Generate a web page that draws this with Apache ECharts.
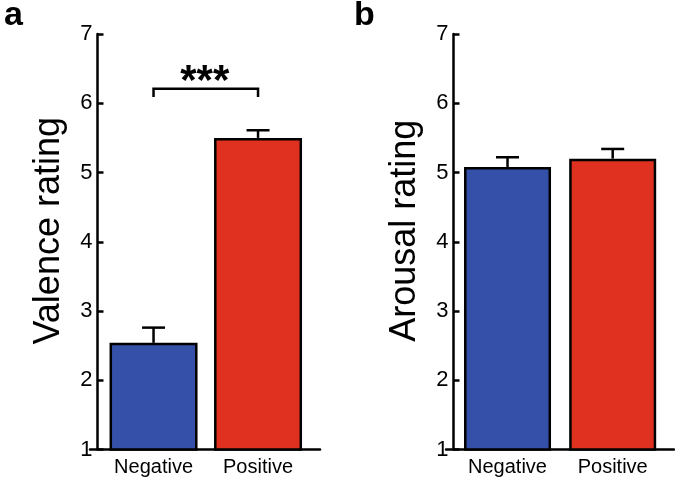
<!DOCTYPE html>
<html>
<head>
<meta charset="utf-8">
<script src="https://cdn.jsdelivr.net/npm/echarts@6/dist/echarts.min.js"></script>
<style>html,body{margin:0;padding:0;background:#fff}#c{width:675px;height:479px}</style>
</head>
<body>
<div id="c"></div>
<script>
const categories = ['Negative', 'Positive'];
const valenceMean = [2.54, 5.50];
const valenceErr = [0.22, 0.11];
const arousalMean = [5.08, 5.20];
const arousalErr = [0.14, 0.14];
const yTicks = [1, 2, 3, 4, 5, 6, 7];
const sigBracket = { from: 1, to: 2, top: 6.21, drop: 6.09, label: '***' };
const barColors = ['#3550A8', '#E0301F'];

const chart = echarts.init(document.getElementById('c'), null, { renderer: 'canvas' });
const FONT = 'Liberation Sans, Arial, sans-serif';

function barData(means) {
  return means.map((v, i) => ({ value: [i + 1, v], itemStyle: { color: barColors[i] } }));
}
function errData(means, errs) {
  return means.map((v, i) => [i + 1, v, v + errs[i]]);
}
function errSeries(idx, means, errs) {
  return {
    type: 'custom', xAxisIndex: idx, yAxisIndex: idx, z: 1,
    data: errData(means, errs),
    renderItem: function (params, api) {
      const x = api.value(0);
      const p0 = api.coord([x, api.value(1)]);
      const p1 = api.coord([x, api.value(2)]);
      const hw = 11.5;
      return {
        type: 'group', children: [
          { type: 'line', shape: { x1: p0[0], y1: p0[1], x2: p1[0], y2: p1[1] }, style: { stroke: '#000', lineWidth: 2.5 } },
          { type: 'line', shape: { x1: p1[0] - hw, y1: p1[1], x2: p1[0] + hw, y2: p1[1] }, style: { stroke: '#000', lineWidth: 2.5 } }
        ]
      };
    }
  };
}
function yAxis(idx, name) {
  return {
    gridIndex: idx, type: 'value', min: yTicks[0], max: yTicks[yTicks.length - 1], interval: 1,
    offset: -7.5,
    name: name, nameLocation: 'middle', nameGap: 30, nameRotate: 90,
    nameTextStyle: { fontFamily: FONT, fontSize: 36, color: '#000', padding: [0, 0, 0, 22] },
    axisLine: { show: true, lineStyle: { color: '#000', width: 2.5 } },
    axisTick: { show: true, inside: true, length: 6, lineStyle: { color: '#000', width: 2.5 } },
    axisLabel: { fontFamily: FONT, fontSize: 22, color: '#000', margin: 5 },
    splitLine: { show: false }
  };
}
function xAxis(idx, min, max) {
  return {
    gridIndex: idx, type: 'value', min: min, max: max,
    axisLine: { show: true, onZero: false, lineStyle: { color: '#000', width: 2.5 } },
    axisTick: { show: false },
    axisLabel: {
      customValues: [1, 2], fontFamily: FONT, fontSize: 20, color: '#000', margin: 8,
      formatter: function (v) { return categories[Math.round(v) - 1] || ''; }
    },
    splitLine: { show: false }
  };
}

const option = {
  animation: false,
  backgroundColor: '#fff',
  title: [
    { text: 'a', left: -1, top: -6, textStyle: { fontFamily: FONT, fontSize: 34, fontWeight: 'bold', color: '#000' } },
    { text: 'b', left: 349, top: -6, textStyle: { fontFamily: FONT, fontSize: 34, fontWeight: 'bold', color: '#000' } }
  ],
  grid: [
    { left: 90, top: 34, width: 230, height: 415.5 },
    { left: 446, top: 34, width: 228, height: 415.5 }
  ],
  xAxis: [xAxis(0, 0.392, 2.593), xAxis(1, 0.415, 2.583)],
  yAxis: [yAxis(0, 'Valence rating'), yAxis(1, 'Arousal rating')],
  series: [
    {
      type: 'bar', xAxisIndex: 0, yAxisIndex: 0, barWidth: 88, z: 2,
      itemStyle: { borderColor: '#000', borderWidth: 2.5 },
      data: barData(valenceMean)
    },
    errSeries(0, valenceMean, valenceErr),
    {
      type: 'bar', xAxisIndex: 1, yAxisIndex: 1, barWidth: 87, z: 2,
      itemStyle: { borderColor: '#000', borderWidth: 2.5 },
      data: barData(arousalMean)
    },
    errSeries(1, arousalMean, arousalErr),
    {
      type: 'custom', xAxisIndex: 0, yAxisIndex: 0, z: 3,
      data: [[sigBracket.from, sigBracket.to, sigBracket.top, sigBracket.drop]],
      renderItem: function (params, api) {
        const a = api.coord([api.value(0), api.value(2)]);
        const b = api.coord([api.value(1), api.value(2)]);
        const d = api.coord([api.value(0), api.value(3)]);
        return {
          type: 'group', children: [
            { type: 'polyline', shape: { points: [[a[0], d[1]], [a[0], a[1]], [b[0], b[1]], [b[0], d[1]]] },
              style: { stroke: '#000', lineWidth: 2.5, fill: null } },
            { type: 'text', x: (a[0] + b[0]) / 2 - 1, y: a[1] + 15,
              style: { text: sigBracket.label, font: 'bold 42px ' + FONT, fill: '#000', align: 'center', verticalAlign: 'bottom' } }
          ]
        };
      }
    }
  ]
};
chart.setOption(option);
</script>
</body>
</html>
